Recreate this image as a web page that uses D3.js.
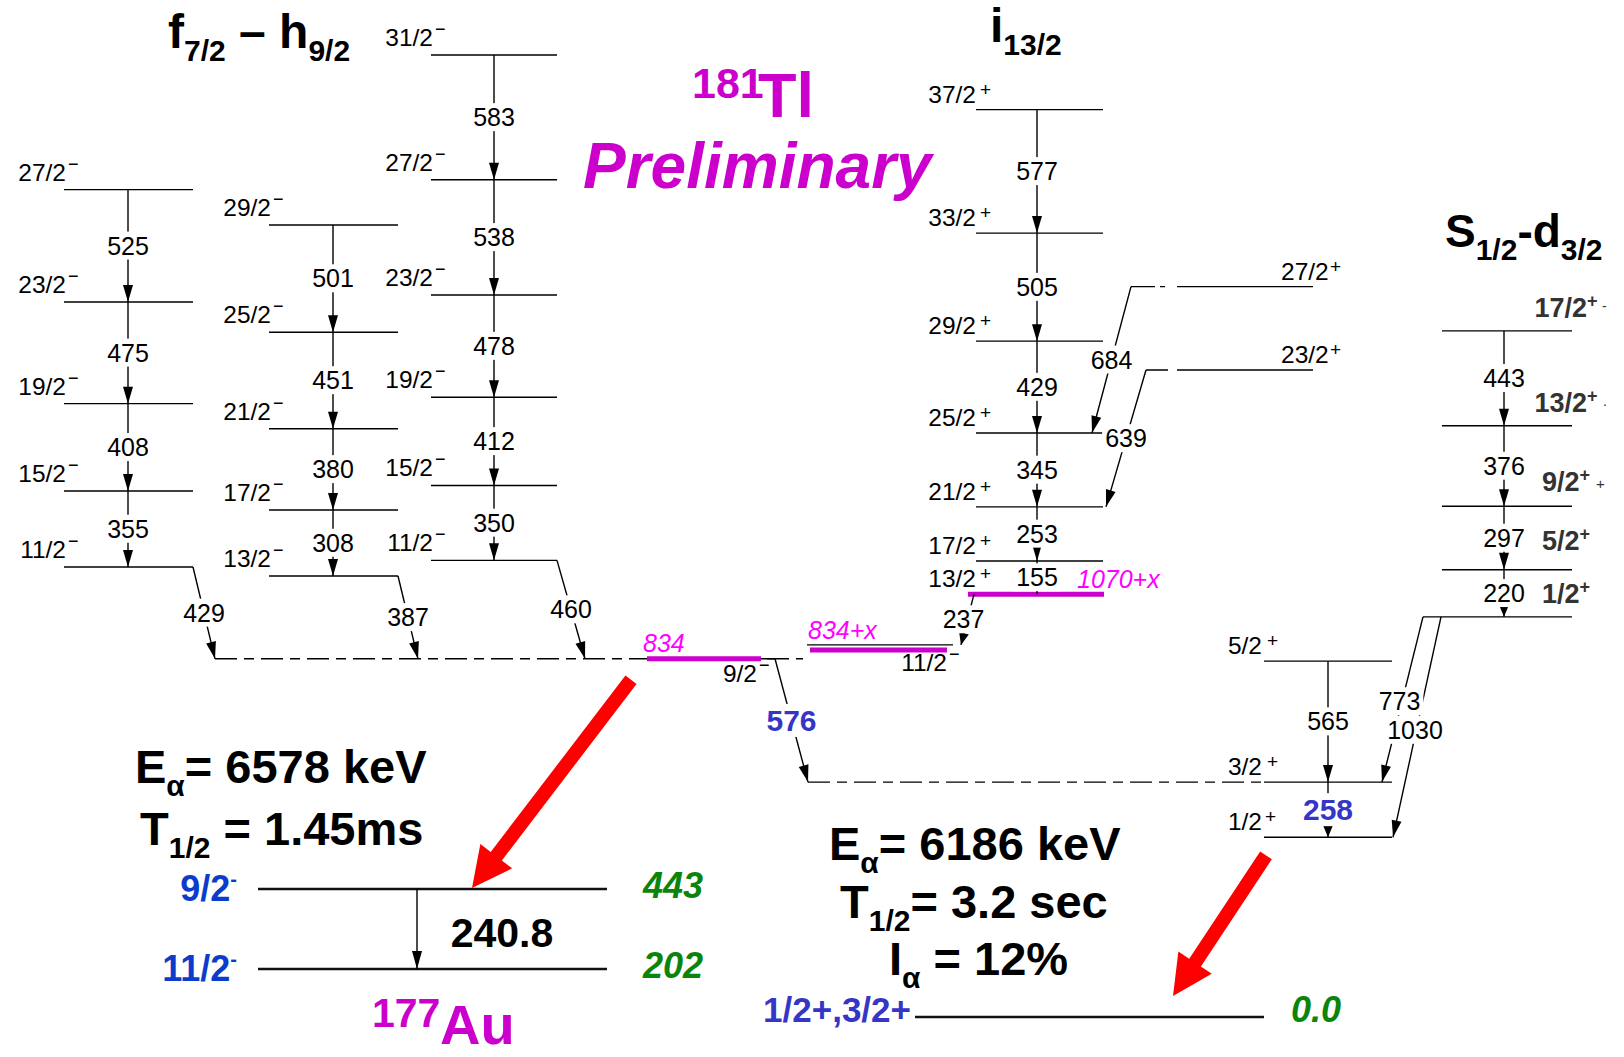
<!DOCTYPE html>
<html>
<head>
<meta charset="utf-8">
<script src="https://cdn.jsdelivr.net/npm/d3@7"></script>
<style>
  html, body { margin: 0; padding: 0; background: #fff; }
  svg { display: block; font-family: "Liberation Sans", Arial, Helvetica, sans-serif; }
</style>
</head>
<body>
<svg id="chart" width="1624" height="1057"></svg>
<script>
// ---------------- level scheme data (keV) ----------------
const isomerEnergy = 834;          // 9/2− isomer of 181Tl
const offsetX = 65;                // unknown offset "x" of the i13/2 structure (estimate)

// f7/2 – h9/2 bands: spins from the bottom up, first gamma feeds the 9/2− isomer
const bandASpins  = ['11/2', '15/2', '19/2', '23/2', '27/2'];
const bandAGammas = [429, 355, 408, 475, 525];
const bandBSpins  = ['13/2', '17/2', '21/2', '25/2', '29/2'];
const bandBGammas = [387, 308, 380, 451, 501];
const bandCSpins  = ['11/2', '15/2', '19/2', '23/2', '27/2', '31/2'];
const bandCGammas = [460, 350, 412, 478, 538, 583];

// i13/2 band on top of the 11/2− level at 834+x
const bandISpins  = ['13/2', '17/2', '21/2', '25/2', '29/2', '33/2', '37/2'];
const bandIGammas = [237, 155, 253, 345, 429, 505, 577];
// side levels feeding the i13/2 band
const sideSpins   = ['27/2', '23/2'];
const sideTargets = ['25/2', '21/2'];
const sideGammas  = [684, 639];

// low-lying positive-parity levels
const lowSpins    = ['1/2', '3/2', '5/2'];
const lowEnergies = [0, 258, 823];
const lowGammas   = [258, 565];          // 3/2→1/2, 5/2→3/2
const isomerGamma = 576;                 // 9/2− → 3/2+

// s1/2 – d3/2 band
const bandSSpins  = ['1/2', '5/2', '9/2', '13/2', '17/2'];
const bandSHead   = 1030;
const bandSGammas = [220, 297, 376, 443];
const bandSOut    = [773, 1030];         // head → 3/2+, head → 1/2+

// 177Au daughter
const auSpins    = ['1/2+,3/2+', '11/2', '9/2'];
const auEnergies = [0, 202, 443];
const auGamma    = 240.8;

// alpha decays
const alphaIsomer = { E: 6578, T: '1.45ms' };
const alphaGround = { E: 6186, T: '3.2 sec', I: '12%' };

// ---------------- layout ----------------
const col = {
  A:   { x0: 64,   x1: 193,  ax: 128,  feed: 22 },
  B:   { x0: 269,  x1: 398,  ax: 333,  feed: 20 },
  C:   { x0: 431,  x1: 557,  ax: 494,  feed: 28 },
  I:   { x0: 976,  x1: 1103, ax: 1037 },
  low: { x0: 1264, x1: 1392, ax: 1328 },
  S:   { x0: 1442, x1: 1572, ax: 1504 }
};
const SPIN_FS = 24.5;
const MAG = '#cc00cc', MAG_L = '#ff00ff', BLUE = '#0b3ccc', BLUE2 = '#3535c8', GREEN = '#0b840b';

const svg = d3.select('#chart');
const yTl = d3.scaleLinear().domain([0, 3655]).range([837.3, 55]);
const yAu = d3.scaleLinear().domain([0, 202, 443]).range([1017, 969, 889]);

const gLev = svg.append('g');
const gGam = svg.append('g');
const gBg  = svg.append('g');
const gTxt = svg.append('g');

const cumulate = (base, gs) => { let e = base; return gs.map(g => (e += g)); };

function hline(x0, x1, y, o = {}) {
  gLev.append('line')
    .attr('x1', x0).attr('x2', x1).attr('y1', y).attr('y2', y)
    .attr('stroke', o.color || '#000')
    .attr('stroke-width', o.w || 1.4)
    .attr('stroke-dasharray', o.dash || null);
}

function text(x, y, str, o = {}) {
  return gTxt.append('text')
    .attr('x', x).attr('y', y)
    .attr('text-anchor', o.anchor || 'start')
    .attr('font-size', o.fs || SPIN_FS)
    .attr('font-weight', o.bold ? 'bold' : null)
    .attr('font-style', o.italic ? 'italic' : null)
    .attr('fill', o.color || '#000')
    .text(str);
}

// spin label: number ends at xEnd, parity sign raised right after it
function spin(xEnd, yLine, num, sign, o = {}) {
  const nb = yLine + (o.dy != null ? o.dy : -9);
  text(xEnd, nb, num, { anchor: 'end', fs: o.fs || SPIN_FS });
  if (sign) {
    const sx = xEnd + (o.sgap != null ? o.sgap : 2);
    if (sign === '+') text(sx, nb - 7, '+', { fs: 19 });
    else text(sx, nb - 11, '\u2212', { fs: 18 });
  }
}

// gamma transition with filled arrowhead and a label breaking the line
function gamma(x1, y1, x2, y2, label, o = {}) {
  gGam.append('line')
    .attr('x1', x1).attr('y1', y1).attr('x2', x2).attr('y2', y2)
    .attr('stroke', '#000').attr('stroke-width', 1.4);
  const a = Math.atan2(y2 - y1, x2 - x1), c = Math.cos(a), s = Math.sin(a);
  const L = o.head || 17, w = o.hw || 5;
  const bx = x2 - L * c, by = y2 - L * s, px = -s * w, py = c * w;
  gGam.append('path')
    .attr('d', `M${x2},${y2}L${bx + px},${by + py}L${bx - px},${by - py}Z`)
    .attr('fill', '#000');
  if (label != null) {
    const lx = (x1 + x2) / 2 + (o.dx || 0), ly = (y1 + y2) / 2 + (o.dy || 0);
    const t = text(lx, ly, label, { anchor: 'middle', fs: o.fs || 25, bold: o.bold, color: o.color })
      .attr('dy', '0.35em');
    const bb = t.node().getBBox();
    gBg.append('rect')
      .attr('x', bb.x - 3).attr('y', bb.y).attr('width', bb.width + 6).attr('height', bb.height)
      .attr('fill', '#fff');
  }
}

// fat red arrow for alpha decay
function fatArrow(x1, y1, x2, y2) {
  const a = Math.atan2(y2 - y1, x2 - x1), c = Math.cos(a), s = Math.sin(a);
  const nx = -s, ny = c, sh = 7, hl = 40, hw = 20;
  const bx = x2 - hl * c, by = y2 - hl * s;
  const pts = [
    [x1 + nx * sh, y1 + ny * sh], [bx + nx * sh, by + ny * sh], [bx + nx * hw, by + ny * hw],
    [x2, y2], [bx - nx * hw, by - ny * hw], [bx - nx * sh, by - ny * sh], [x1 - nx * sh, y1 - ny * sh]
  ];
  svg.append('path').attr('d', 'M' + pts.map(p => p.join(',')).join('L') + 'Z').attr('fill', '#ff0000');
}

// ---------------- negative-parity bands ----------------
const yIso = yTl(isomerEnergy);
[
  { spins: bandASpins, gammas: bandAGammas, c: col.A },
  { spins: bandBSpins, gammas: bandBGammas, c: col.B },
  { spins: bandCSpins, gammas: bandCGammas, c: col.C }
].forEach(b => {
  const E = cumulate(isomerEnergy, b.gammas);
  E.forEach((e, i) => {
    hline(b.c.x0, b.c.x1, yTl(e));
    spin(b.c.x0 + 2, yTl(e), b.spins[i], '-');
    if (i > 0) gamma(b.c.ax, yTl(e), b.c.ax, yTl(E[i - 1]), b.gammas[i]);
  });
  gamma(b.c.x1, yTl(E[0]), b.c.x1 + b.c.feed, yIso, b.gammas[0]);
});

// 9/2− isomer
hline(215, 803, yIso, { dash: '22,7,10,7' });
hline(647, 775, yIso);
hline(647, 761, yIso, { color: MAG, w: 5 });
text(643, yIso - 7, String(isomerEnergy), { fs: 25, italic: true, color: MAG_L });
spin(757, yIso, '9/2', '-', { dy: 23 });
gamma(775, yIso, 808, yTl(lowEnergies[1]), isomerGamma, { bold: true, fs: 30, color: BLUE2 });

// ---------------- i13/2 band ----------------
const iHead = isomerEnergy + offsetX;
const yIH = yTl(iHead);
hline(807, 953, yIH);
hline(810, 947, yIH + 5, { color: MAG, w: 5 });
text(808, yIH - 6, isomerEnergy + '+x', { fs: 25, italic: true, color: MAG_L });
spin(947, yIH, '11/2', '-', { dy: 26 });

const EI = cumulate(iHead, bandIGammas);
EI.forEach((e, i) => {
  const y = yTl(e);
  if (i === 0) {
    hline(968, 1104, y);
    hline(968, 1104, y, { color: MAG, w: 5 });
    text(1077, y - 6, (iHead - offsetX + bandIGammas[0] - 1) + '+x', { fs: 25, italic: true, color: MAG_L });
    gamma(974, y, 961, yIH, bandIGammas[0], { head: 12, dx: -4 });
  } else {
    hline(col.I.x0, col.I.x1, y);
    gamma(col.I.ax, y, col.I.ax, yTl(EI[i - 1]), bandIGammas[i]);
  }
  spin(col.I.x0, y, bandISpins[i], '+', { dy: -7, sgap: 4 });
});

// side levels
const sideLayout = [
  { xs: 1131, tipx: 1092, dash: '24,5,5,12,400' },
  { xs: 1146, tipx: 1106, dash: '22,9,400' }
];
sideSpins.forEach((sp, i) => {
  const tgt = EI[bandISpins.indexOf(sideTargets[i])];
  const e = tgt + sideGammas[i];
  const y = yTl(e), L = sideLayout[i];
  hline(L.xs, 1313, y, { dash: L.dash });
  text(1281, y - 7, sp, { fs: SPIN_FS });
  text(1330, y - 14, '+', { fs: 19 });
  gamma(L.xs, y, L.tipx, yTl(tgt), sideGammas[i]);
});

// ---------------- low-lying positive-parity levels ----------------
lowEnergies.forEach((e, i) => {
  const y = yTl(e);
  hline(col.low.x0, col.low.x1, y);
  spin(col.low.x0 - 2, y, lowSpins[i], '+', { dy: -7, sgap: i === 0 ? 3 : 5 });
});
hline(808, col.low.x0, yTl(lowEnergies[1]), { dash: '22,7,10,7' });
gamma(col.low.ax, yTl(lowEnergies[2]), col.low.ax, yTl(lowEnergies[1]), lowGammas[1]);
gamma(col.low.ax, yTl(lowEnergies[1]), col.low.ax, yTl(lowEnergies[0]), lowGammas[0],
      { bold: true, fs: 30, color: BLUE2, head: 12 });

// ---------------- s1/2 – d3/2 band ----------------
const ES = [bandSHead].concat(cumulate(bandSHead, bandSGammas));
const sLabelDy = [-14, -20, -15, -14, -14];
ES.forEach((e, i) => {
  const y = yTl(e);
  hline(i === 0 ? 1423 : col.S.x0, col.S.x1, y);
  const t = gTxt.append('text').attr('x', 1566).attr('y', y + sLabelDy[i])
    .attr('text-anchor', 'middle').attr('font-size', 27).attr('font-weight', 'bold').attr('fill', '#333');
  t.append('tspan').text(bandSSpins[i]);
  t.append('tspan').attr('dy', -10).attr('font-size', 18).text('+');
  if (i > 0) gamma(col.S.ax, y, col.S.ax, yTl(ES[i - 1]), bandSGammas[i - 1], { head: i === 1 ? 12 : 17 });
});
text(1602, yTl(ES[4]) - 20, '-', { fs: 14, color: '#333' });
text(1603, yTl(ES[3]) - 20, '.', { fs: 14, color: '#333' });
text(1596, yTl(ES[2]) - 17, '+', { fs: 15, color: '#333' });
gamma(1423, yTl(bandSHead), 1382, yTl(lowEnergies[1]), bandSOut[0], { dx: -3, dy: 2 });
gamma(1441, yTl(bandSHead), 1393, yTl(lowEnergies[0]), bandSOut[1], { dx: -2, dy: 3 });

// ---------------- 177Au daughter ----------------
auEnergies.forEach((e, i) => {
  const y = yAu(e);
  if (i === 0) {
    hline(915, 1264, y, { w: 2.6, color: '#111' });
    text(911, y + 5, auSpins[i], { anchor: 'end', fs: 35, bold: true, color: BLUE2 });
    text(1291, y + 5, e.toFixed(1), { fs: 36, bold: true, italic: true, color: GREEN });
  } else {
    hline(258, 607, y, { w: 2.6, color: '#111' });
    const t = gTxt.append('text').attr('x', 237).attr('y', y + 12).attr('text-anchor', 'end')
      .attr('font-size', 36).attr('font-weight', 'bold').attr('fill', BLUE);
    t.append('tspan').text(auSpins[i]);
    t.append('tspan').attr('dy', -15).attr('font-size', 20).text('-');
    text(643, y + 9, String(e), { fs: 36, bold: true, italic: true, color: GREEN });
  }
});
gamma(417, yAu(auEnergies[2]), 417, yAu(auEnergies[1]), null, { head: 18 });
text(502, 947, auGamma.toFixed(1), { anchor: 'middle', fs: 41, bold: true });

// alpha-decay arrows
fatArrow(631, yIso + 21, 472, yAu(auEnergies[2]) - 1);
fatArrow(1266, yTl(0) + 18, 1173, yAu(0) - 21);

// alpha-decay properties
function alphaLine(x, y, sym, sub, rest, anchor) {
  const t = gTxt.append('text').attr('x', x).attr('y', y).attr('text-anchor', anchor || 'start')
    .attr('font-size', 47).attr('font-weight', 'bold').attr('fill', '#000');
  t.append('tspan').text(sym);
  t.append('tspan').attr('dy', 13).attr('font-size', 30).text(sub);
  t.append('tspan').attr('dy', -13).text(rest);
}
alphaLine(135, 783, 'E', '\u03b1', '= ' + alphaIsomer.E + ' keV');
alphaLine(140, 845, 'T', '1/2', ' = ' + alphaIsomer.T);
alphaLine(829, 860, 'E', '\u03b1', '= ' + alphaGround.E + ' keV');
alphaLine(840, 918, 'T', '1/2', '= ' + alphaGround.T);
alphaLine(889, 975, 'I', '\u03b1', ' = ' + alphaGround.I);

// ---------------- titles ----------------
function titled(x, y, parts, fs, sfs, color) {
  const t = gTxt.append('text').attr('x', x).attr('y', y).attr('font-size', fs)
    .attr('font-weight', 'bold').attr('fill', color || '#000');
  let down = false;
  parts.forEach(p => {
    const isSub = p.startsWith('_');
    const s = t.append('tspan').text(isSub ? p.slice(1) : p);
    if (isSub && !down) { s.attr('dy', 13).attr('font-size', sfs); down = true; }
    else if (isSub) { s.attr('font-size', sfs); }
    else if (down) { s.attr('dy', -13); down = false; }
  });
}
titled(168, 48, ['f', '_7/2', ' \u2013 h', '_9/2'], 48, 30);
titled(990, 42, ['i', '_13/2'], 48, 30);
titled(1445, 247, ['S', '_1/2', '-d', '_3/2'], 46, 30);

// nucleus names
text(692, 98, '181', { fs: 43, bold: true, color: MAG });
text(758, 117, 'Tl', { fs: 63, bold: true, color: MAG });
text(583, 188, 'Preliminary', { fs: 64, bold: true, italic: true, color: MAG });
text(372, 1027, '177', { fs: 41, bold: true, color: MAG });
text(440, 1044, 'Au', { fs: 56, bold: true, color: MAG });
</script>
</body>
</html>
